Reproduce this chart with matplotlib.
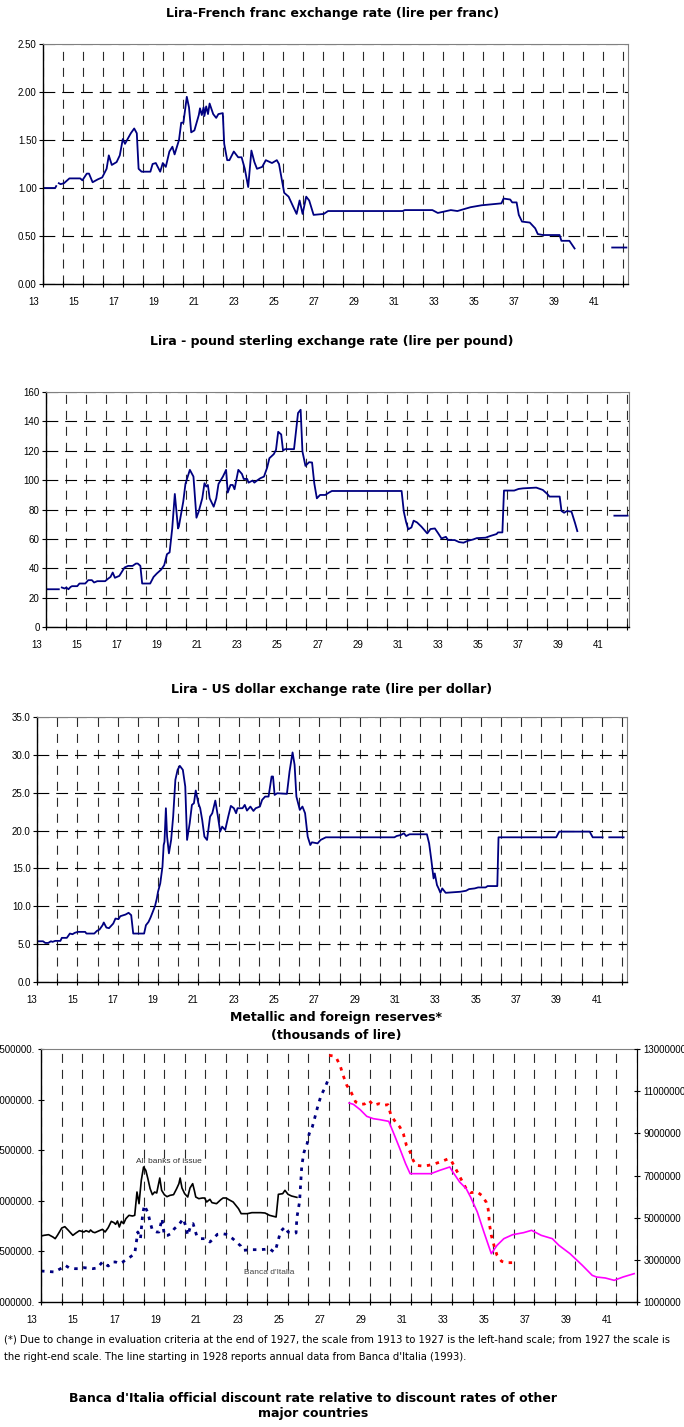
import matplotlib
matplotlib.use("Agg")
import matplotlib.pyplot as plt
import numpy as np
from matplotlib.transforms import ScaledTranslation
from matplotlib.ticker import FuncFormatter

plt.rcParams.update({
    "font.family": ["Liberation Sans", "DejaVu Sans"],
    "lines.scale_dashes": False,
})

nan = np.nan

# ---------------- data (years as 13 = 1913) ----------------
franc_year = [13.00, 13.61, 13.66, nan, 13.79, 13.88, 14.05, 14.32, 14.86, 14.97, 15.19, 15.30, 15.48,
              15.74, 15.96, 16.18, 16.29, 16.44, 16.68, 16.84, 16.99, 17.10, 17.23, 17.39, 17.56,
              17.69, 17.78, 17.93, 18.37, 18.48, 18.64, 18.86, 18.99, 19.14, 19.32, 19.47, 19.58,
              19.80, 19.91, 20.02, 20.19, 20.30, 20.41, 20.57, 20.79, 20.85, 20.94, 21.03, 21.07,
              21.16, 21.25, 21.33, 21.51, 21.66, 21.77, 21.99, 22.06, 22.21, 22.32, 22.54, 22.76,
              22.93, 23.09, 23.26, 23.42, 23.57, 23.70, 23.96, 24.14, 24.45, 24.69, 24.80, 25.06,
              25.28, 25.50, 25.68, 25.83, 25.98, 26.16, 26.31, 26.53, 27.04, 27.25, 30.98, 31.09,
              31.31, 32.47, 32.74, 33.39, 33.72, 34.38, 34.93, 35.92, 36.03, 36.36, 36.46, 36.68,
              36.79, 36.95, 37.34, 37.61, 37.74, 38.00, 38.83, 38.92, 39.32, 39.58, nan, 41.46, 42.17]
franc_rate = [1.00, 1.00, 1.02, nan, 1.05, 1.04, 1.05, 1.10, 1.10, 1.08, 1.15, 1.15, 1.06,
              1.09, 1.11, 1.20, 1.34, 1.24, 1.27, 1.34, 1.51, 1.46, 1.51, 1.57, 1.62,
              1.57, 1.20, 1.17, 1.17, 1.25, 1.26, 1.17, 1.26, 1.22, 1.38, 1.43, 1.35,
              1.50, 1.68, 1.68, 1.95, 1.84, 1.58, 1.60, 1.76, 1.83, 1.76, 1.84, 1.75,
              1.85, 1.77, 1.88, 1.77, 1.73, 1.77, 1.78, 1.46, 1.29, 1.29, 1.38, 1.32,
              1.32, 1.20, 1.01, 1.39, 1.27, 1.20, 1.22, 1.29, 1.26, 1.29, 1.25, 0.95,
              0.91, 0.81, 0.73, 0.87, 0.73, 0.91, 0.87, 0.72, 0.73, 0.76, 0.76, 0.77,
              0.77, 0.77, 0.74, 0.77, 0.76, 0.80, 0.82, 0.84, 0.89, 0.88, 0.85, 0.85,
              0.72, 0.65, 0.64, 0.58, 0.52, 0.51, 0.51, 0.45, 0.45, 0.37, nan, 0.38, 0.38]

pound_year = [13.00, 13.64, nan, 13.79, 13.93, 14.01, 14.12, 14.23, 14.30, 14.56, 14.67, 14.96, 15.11,
              15.29, 15.40, 15.56, 15.95, 16.11, 16.22, 16.33, 16.44, 16.66, 16.92, 17.10, 17.32,
              17.49, 17.58, 17.71, 17.80, 18.20, 18.37, 18.53, 18.75, 18.90, 19.04, 19.17, 19.30,
              19.43, 19.59, 19.63, 19.85, 19.96, 20.18, 20.36, 20.51, 20.62, 20.80, 20.91, 21.00,
              21.08, 21.17, 21.37, 21.50, 21.61, 21.83, 21.99, 22.07, 22.21, 22.32, 22.41, 22.60,
              22.78, 22.87, 23.04, 23.11, 23.31, 23.40, 23.53, 23.70, 23.88, 24.04, 24.15, 24.37,
              24.48, 24.59, 24.74, 24.83, 24.94, 25.38, 25.58, 25.71, 25.80, 25.95, 26.13, 26.28,
              26.39, 26.52, 26.68, 26.94, 27.12, 27.27, 30.75, 30.86, 30.97, 31.08, 31.24, 31.35,
              31.52, 31.74, 32.03, 32.19, 32.41, 32.58, 32.74, 32.96, 33.07, 33.40, 33.62, 33.84,
              34.06, 34.32, 34.50, 34.94, 35.16, 35.49, 35.56, 35.78, 35.86, 36.37, 36.59, 36.81,
              37.47, 37.80, 38.02, 38.13, 38.64, 38.73, 38.86, 39.01, 39.23, 39.41, 39.52, nan,
              41.37, 42.03]
pound_rate = [25.7, 25.7, nan, 26.9, 26.2, 26.9, 25.7, 27.3, 27.8, 27.8, 29.6, 29.6, 31.9,
              31.9, 30.3, 31.2, 31.2, 33.0, 34.1, 37.1, 33.5, 34.8, 40.5, 41.6, 41.6,
              43.2, 43.2, 41.6, 29.6, 29.6, 34.1, 36.4, 39.1, 42.1, 49.6, 50.8, 67.1,
              90.6, 67.1, 68.3, 85.3, 97.4, 107.0, 102.4, 74.4, 78.5, 87.6, 97.9, 95.6,
              96.7, 87.6, 81.9, 87.6, 97.4, 102.4, 107.0, 91.5, 96.7, 96.7, 93.8, 107.0,
              104.2, 100.8, 100.8, 98.3, 99.7, 98.3, 99.7, 101.3, 102.4, 108.6, 114.9, 117.7,
              120.6, 132.9, 131.1, 120.2, 121.1, 121.1, 145.7, 147.9, 119.5, 109.7, 112.2, 112.0,
              97.9, 87.6, 89.9, 89.9, 91.5, 92.6, 92.6, 78.5, 71.7, 66.5, 67.8, 72.4,
              71.2, 68.3, 63.7, 66.7, 67.1, 63.7, 60.3, 61.4, 59.2, 59.2, 57.8, 57.4,
              58.7, 59.6, 60.5, 60.8, 61.9, 63.3, 64.4, 64.4, 92.9, 92.9, 94.0, 94.4,
              94.9, 93.3, 90.6, 88.8, 88.8, 79.0, 77.8, 79.0, 78.5, 70.6, 65.3, nan,
              75.8, 75.8]

dollar_year = [13.00, 13.30, 13.41, 13.56, 13.69, 13.77, 13.90, 14.16, 14.23, 14.48, 14.63, 14.76, 14.87,
               15.02, 15.39, 15.45, 15.84, 15.97, 16.10, 16.25, 16.31, 16.44, 16.57, 16.78, 16.89,
               17.04, 17.13, 17.39, 17.54, 17.67, 17.77, 18.31, 18.40, 18.53, 18.63, 18.74, 18.85,
               18.94, 19.00, 19.11, 19.22, 19.28, 19.32, 19.39, 19.45, 19.54, 19.65, 19.75, 19.86,
               19.97, 20.08, 20.23, 20.35, 20.44, 20.57, 20.68, 20.78, 20.87, 21.00, 21.09, 21.19,
               21.30, 21.43, 21.58, 21.69, 21.84, 21.97, 22.08, 22.18, 22.33, 22.48, 22.61, 22.76,
               22.87, 22.94, 23.19, 23.30, 23.41, 23.58, 23.73, 23.84, 24.05, 24.16, 24.31, 24.48,
               24.63, 24.70, 24.78, 24.91, 25.39, 25.52, 25.67, 25.77, 25.86, 26.03, 26.16, 26.29,
               26.42, 26.55, 26.63, 26.91, 27.06, 27.32, 30.72, 30.83, 31.04, 31.19, 31.30, 31.47,
               32.33, 32.44, 32.55, 32.66, 32.72, 32.83, 32.91, 33.00, 33.09, 33.26, 33.99, 34.27,
               34.42, 34.70, 34.87, 35.24, 35.34, 35.82, 35.88, 38.74, 38.89, 40.40, 40.55, 41.04,
               nan, 41.37, 42.08]
dollar_rate = [5.38, 5.38, 5.16, 5.16, 5.38, 5.30, 5.43, 5.43, 5.83, 5.83, 6.40, 6.31, 6.49,
               6.62, 6.62, 6.40, 6.40, 6.75, 6.93, 7.50, 7.86, 7.19, 7.11, 7.72, 8.38,
               8.30, 8.69, 8.91, 9.14, 8.83, 6.40, 6.40, 7.50, 7.94, 8.52, 9.27, 10.02,
               11.03, 11.92, 13.02, 15.23, 18.09, 18.53, 22.95, 19.20, 16.99, 18.76, 21.84, 26.70,
               28.02, 28.55, 28.02, 25.82, 18.76, 20.96, 23.39, 23.61, 25.29, 23.61, 22.95, 21.40,
               19.20, 18.76, 21.84, 22.29, 23.96, 21.84, 19.86, 20.52, 20.08, 21.84, 23.26, 22.95,
               22.29, 22.95, 22.95, 23.39, 22.64, 23.17, 22.59, 22.95, 23.17, 24.05, 24.49, 24.49,
               27.14, 27.14, 24.71, 24.93, 24.85, 27.80, 30.32, 28.69, 24.49, 22.73, 23.17, 22.29,
               19.20, 18.09, 18.45, 18.31, 18.76, 19.11, 19.11, 19.28, 19.42, 19.64, 19.28, 19.51,
               19.51, 18.31, 16.11, 13.68, 14.34, 12.80, 12.36, 11.78, 12.36, 11.78, 11.92, 12.05,
               12.27, 12.36, 12.49, 12.49, 12.67, 12.67, 19.11, 19.11, 19.86, 19.86, 19.11, 19.11,
               nan, 19.11, 19.11]

# reserves, thousands of lire (left-hand scale up to 1927)
allbanks_year = [13.00, 13.15, 13.37, 13.58, 13.69, 13.80, 14.01, 14.16, 14.33, 14.55, 14.70, 14.87,
                 15.09, 15.19, 15.34, 15.41, 15.52, 15.62, 15.84, 15.99, 16.12, 16.27, 16.42, 16.55,
                 16.63, 16.72, 16.81, 16.91, 17.02, 17.13, 17.28, 17.45, 17.56, 17.67, 17.77, 17.88,
                 17.99, 18.10, 18.20, 18.31, 18.42, 18.53, 18.63, 18.78, 18.87, 19.00, 19.13, 19.28,
                 19.45, 19.60, 19.71, 19.77, 19.86, 19.99, 20.14, 20.25, 20.38, 20.46, 20.53, 20.68,
                 20.85, 20.96, 21.06, 21.22, 21.32, 21.54, 21.75, 21.86, 22.01, 22.14, 22.35, 22.61,
                 22.74, 23.04, 23.26, 23.69, 23.90, 24.12, 24.44, 24.55, 24.76, 24.87, 25.02, 25.19,
                 25.45]
allbanks_res = [1652000, 1658800, 1665300, 1642300, 1625800, 1658800, 1731200, 1744400, 1708200,
                1658800, 1681800, 1704900, 1691700, 1704900, 1691700, 1711500, 1691700, 1685100,
                1704900, 1718000, 1691700, 1734500, 1797100, 1783900, 1767400, 1800400, 1741100,
                1797100, 1774000, 1823500, 1856400, 1849800, 1856400, 2086900, 1971700, 2202200,
                2334000, 2301000, 2218700, 2119900, 2060600, 2086900, 2077000, 2225300, 2103400,
                2060600, 2040800, 2054000, 2060600, 2119900, 2169300, 2225300, 2126500, 2070500,
                2037500, 2126500, 2169300, 2103400, 2037500, 2021000, 2027700, 2027700, 1988100,
                2014500, 1981600, 1971700, 2011200, 2027700, 2027700, 2011200, 1988100, 1922300,
                1872900, 1872900, 1882800, 1882800, 1879400, 1856400, 1839900, 2063900, 2070500,
                2103400, 2063900, 2047400, 2034200]

bdi_year = [13.00, 13.69, 13.80, 14.01, 14.18, 14.38, 14.66, 14.83, 15.09, 15.52, 15.73, 15.99,
            16.27, 16.48, 16.63, 16.81, 16.98, 17.13, 17.34, 17.56, 17.71, 17.84, 17.95, 18.03,
            18.20, 18.31, 18.42, 18.63, 18.74, 18.89, 19.00, 19.17, 19.32, 19.49, 19.71, 19.92,
            20.03, 20.14, 20.29, 20.40, 20.57, 20.78, 21.00, 21.22, 21.39, 21.58, 21.82, 22.01,
            22.33, 22.72, 22.83, 23.26, 23.58, 23.90, 24.12, 24.33, 24.44, 24.66, 24.87, 25.02,
            25.19, 25.41, 25.45, 25.58, 25.69, 25.80, 25.95, 26.05, 26.20, 26.31, 26.48, 26.63,
            26.81, 26.96]
bdi_res = [1306300, 1296400, 1312900, 1336000, 1362300, 1336000, 1329400, 1329400, 1339300,
           1329400, 1336000, 1395300, 1355700, 1395300, 1395300, 1378800, 1395300, 1418300,
           1444700, 1477600, 1691700, 1625800, 1872900, 1955200, 1882800, 1790500, 1708200,
           1691700, 1691700, 1823500, 1658800, 1658800, 1675200, 1724600, 1764200, 1823500,
           1757600, 1658800, 1757600, 1774000, 1658800, 1625800, 1625800, 1592900, 1625800,
           1668600, 1675200, 1668600, 1625800, 1553400, 1510500, 1517100, 1517100, 1520400,
           1527000, 1494100, 1533600, 1698300, 1741100, 1691700, 1685100, 1681800, 1833300,
           1988100, 2350500, 2482200, 2564600, 2663400, 2729300, 2811600, 2943300, 3042100,
           3114600, 3190400]

# right-hand scale from 1927
bdi_new_year = [27.02, 27.24, 27.39, 27.56, 27.73, 27.88, 28.10, 28.31, 28.53, 28.74, 28.96, 29.17,
                29.45, 29.67, 29.88, 30.03, 30.25, 30.46, 30.63, 30.78, 30.96, 31.11, 31.26, 31.54,
                31.86, 32.18, 32.51, 32.83, 32.98, 33.26, 33.47, 33.69, 33.90, 34.23, 34.44, 34.66,
                34.76, 34.83, 34.91, 35.04, 35.19, 35.41, 35.62, 35.95]
bdi_new_res = [12699400, 12667800, 12541300, 12193500, 11671800, 11276500, 10928700, 10486000,
               10375300, 10391100, 10565100, 10327900, 10407000, 10327900, 10359500, 9853600,
               9537400, 9300300, 8984100, 8430700, 8114500, 7719300, 7482100, 7450500, 7482100,
               7561200, 7671800, 7798300, 7671800, 7165900, 6770700, 6375400, 6185700, 6217300,
               6059200, 5743000, 5395200, 4636300, 4162000, 3687700, 3213400, 2928800, 2865600,
               2865600]

annual_year = [27.99, 28.20, 28.53, 28.85, 29.17, 29.49, 29.92, 30.20, 30.46, 30.74, 30.96, 31.97,
               32.40, 32.89, 33.04, 33.37, 33.69, 33.90, 34.23, 34.55, 34.91, 35.19, 35.52, 35.95,
               36.48, 36.87, 37.34, 37.88, 38.20, 38.74, 39.34, 39.82, 40.03, 40.46, 40.89, 41.32,
               41.86]
annual_res = [10438600, 10375300, 10122400, 9806200, 9695500, 9648100, 9569000, 8905000, 8272600,
              7561200, 7086900, 7086900, 7245000, 7403100, 7165900, 6691600, 6375400, 5980200,
              5268700, 4320100, 3292500, 3687700, 4003900, 4193600, 4288500, 4399200, 4162000,
              4003900, 3687700, 3292500, 2739100, 2264800, 2185800, 2138300, 2027700, 2185800,
              2343900]

NAVY = "#000080"
W, H = 684, 1427
fig = plt.figure(figsize=(W / 100, H / 100), dpi=100)


def px_axes(l, t, r, b):
    return fig.add_axes([l / W, 1 - b / H, (r - l) / W, (b - t) / H])


def px_text(x, y, s, **kw):
    fig.text(x / W, 1 - y / H, s, **kw)


def title(x, y, s):
    px_text(x, y, s, ha="center", va="center", fontsize=9, fontweight="bold",
            family=["DejaVu Sans"])


def style(ax, xmax, lab_shift):
    ax.set_xlim(13, xmax)
    years = np.arange(13, int(xmax) + 1)
    ax.set_xticks(years)
    ax.set_xticklabels([str(y) if (y - 13) % 2 == 0 else "" for y in years])
    ax.tick_params(axis="x", direction="inout", length=5, width=0.8, labelsize=7, pad=7)
    ax.tick_params(axis="y", direction="out", length=3, width=0.8, labelsize=7, pad=1.5)
    ax.grid(axis="x", color="#2a2a2a", lw=0.8, linestyle=(0, (6.5, 5)))
    ax.set_axisbelow(True)
    for s in ["top", "right"]:
        ax.spines[s].set_color("#808080")
    for s in ["left", "bottom"]:
        ax.spines[s].set_linewidth(1.0)
    off = ScaledTranslation(lab_shift / 100, 0, fig.dpi_scale_trans)
    for lab in ax.get_xticklabels():
        lab.set_transform(lab.get_transform() + off)


def yaxis(ax, ymax, step, fmt):
    ax.set_ylim(0, ymax)
    ax.set_yticks(np.arange(0, ymax + step / 2, step))
    ax.yaxis.set_major_formatter(FuncFormatter(lambda v, p: fmt % v))
    ax.grid(axis="y", color="black", lw=0.8, linestyle=(0, (8.5, 5)))


# ---------------- panel 1: franc ----------------
title(333, 14, "Lira-French franc exchange rate (lire per franc)")
ax1 = px_axes(43, 44, 628, 284)
yaxis(ax1, 2.5, 0.5, "%.2f")
style(ax1, 42.25, -9)
ax1.plot(franc_year, franc_rate, color=NAVY, lw=1.3)

# ---------------- panel 2: pound ----------------
title(332, 342, "Lira - pound sterling exchange rate (lire per pound)")
ax2 = px_axes(46, 392, 629, 627)
yaxis(ax2, 160, 20, "%d")
style(ax2, 42.1, -9)
ax2.plot(pound_year, pound_rate, color=NAVY, lw=1.3)

# ---------------- panel 3: dollar ----------------
title(332, 689, "Lira - US dollar exchange rate (lire per dollar)")
ax3 = px_axes(37, 717, 627, 982)
yaxis(ax3, 35, 5, "%.1f")
style(ax3, 42.25, -5)
ax3.plot(dollar_year, dollar_rate, color=NAVY, lw=1.3)

# ---------------- panel 4: reserves ----------------
title(336, 1017, "Metallic and foreign reserves*")
title(336, 1035, "(thousands of lire)")
ax4 = px_axes(41, 1049, 637, 1302)
style(ax4, 42.0, -9)
ax4.set_ylim(1000000, 3500000)
ax4.set_yticks(np.arange(1000000, 3500001, 500000))
ax4.yaxis.set_major_formatter(FuncFormatter(lambda v, p: "%d." % v))
ax4.tick_params(axis="y", direction="inout", length=5, pad=2)
ax4.spines["right"].set_color("black")
ax4.plot(allbanks_year, allbanks_res, color="black", lw=1.2)
ax4.plot(bdi_year, bdi_res, color=NAVY, lw=2.0, linestyle=(0, (2.5, 4)))
ax4.text(19.2, 2390000, "All banks of issue", ha="center", va="center", fontsize=6, color="#333333")
ax4.text(24.1, 1296000, "Banca d'Italia", ha="center", va="center", fontsize=6, color="#444444")

ax4r = ax4.twinx()
ax4r.set_ylim(1000000, 13000000)
ax4r.set_yticks(np.arange(1000000, 13000001, 2000000))
ax4r.yaxis.set_major_formatter(FuncFormatter(lambda v, p: "%d" % v))
ax4r.tick_params(axis="y", direction="inout", length=5, width=0.8, labelsize=7, pad=2)
for s in ["top", "left", "bottom"]:
    ax4r.spines[s].set_visible(False)
ax4r.spines["right"].set_color("black")
ax4r.plot(bdi_new_year, bdi_new_res, color="#FF0000", lw=2.0, linestyle=(0, (2.5, 4)))
ax4r.plot(annual_year, annual_res, color="#FF00FF", lw=1.2)

# ---------------- notes ----------------
px_text(4, 1340, "(*) Due to change in evaluation criteria at the end of 1927, the scale from 1913 to 1927 "
        "is the left-hand scale; from 1927 the scale is", ha="left", va="center", fontsize=7.2,
        family=["DejaVu Sans"])
px_text(4, 1357, "the right-end scale. The line starting in 1928 reports annual data from "
        "Banca d'Italia (1993).", ha="left", va="center", fontsize=7.2, family=["DejaVu Sans"])

title(313, 1398, "Banca d'Italia official discount rate relative to discount rates of other")
title(313, 1414, "major countries")

fig.savefig("out.png", dpi=100)
